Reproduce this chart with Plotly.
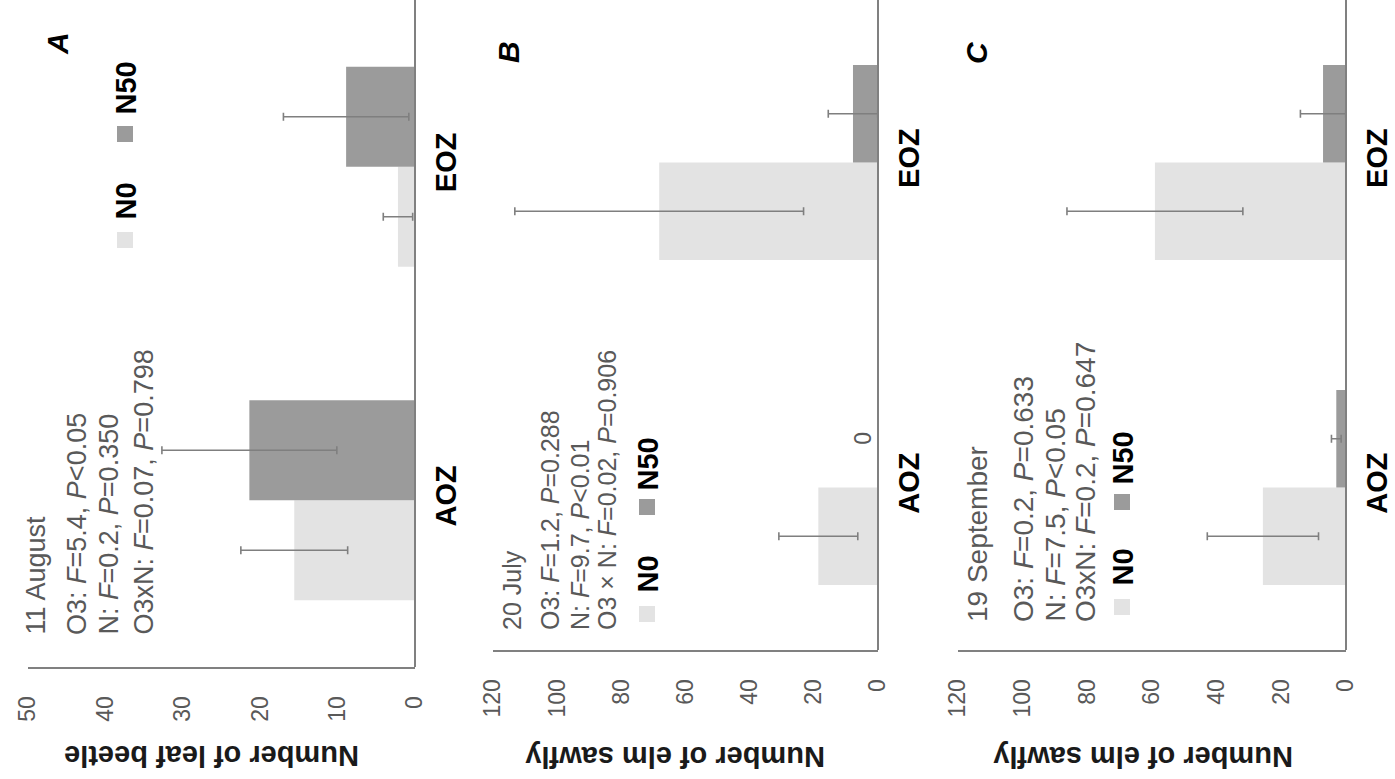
import plotly.graph_objects as go

W, H = 1395, 779

categories = ["AOZ", "EOZ"]
series_names = ["N0", "N50"]

# Panel A: leaf beetle (11 August)
a_n0 = [15.6, 2.2]
a_n0_err = [6.9, 1.9]
a_n50 = [21.4, 8.9]
a_n50_err = [11.3, 8.1]

# Panel B: elm sawfly (20 July)
b_n0 = [18.6, 68.2]
b_n0_err = [12.3, 45.0]
b_n50 = [0, 7.8]
b_n50_err = [0, 7.7]

# Panel C: elm sawfly (19 September)
c_n0 = [25.7, 59.1]
c_n0_err = [17.2, 27.2]
c_n50 = [3.0, 7.1]
c_n50_err = [1.5, 7.0]

a_ticks = [0, 10, 20, 30, 40, 50]
bc_ticks = [0, 20, 40, 60, 80, 100, 120]

panel_letters = ["A", "B", "C"]
axis_titles = ["Number of leaf beetle", "Number of elm sawfly", "Number of elm sawfly"]
stats_a = ["11 August", "O3: <i>F</i>=5.4, <i>P</i>&lt;0.05", "N: <i>F</i>=0.2, <i>P</i>=0.350",
           "O3xN: <i>F</i>=0.07, <i>P</i>=0.798"]
stats_b = ["20 July", "O3: <i>F</i>=1.2, <i>P</i>=0.288", "N: <i>F</i>=9.7, <i>P</i>&lt;0.01",
           "O3 × N: <i>F</i>=0.02, <i>P</i>=0.906"]
stats_c = ["19 September", "O3: <i>F</i>=0.2, <i>P</i>=0.633", "N: <i>F</i>=7.5, <i>P</i>&lt;0.05",
           "O3xN: <i>F</i>=0.2, <i>P</i>=0.647"]

COL_N0 = "#e3e3e3"
COL_N50 = "#9b9b9b"
ERR_COL = "#7f7f7f"
AX_COL = "#808080"
TXT_GRAY = "#595959"
FONT = "Liberation Sans, Arial, sans-serif"

panels = [
    dict(n0=a_n0, n0e=a_n0_err, n50=a_n50, n50e=a_n50_err, ticks=a_ticks, vmax=50,
         xdom=(28, 415), ybot=667, stats=stats_a, stat_x=[35, 77, 108, 143], stat_y=637, stat_size=27,
         leg_x=125, leg_sq=[240, 134], leg_txt=[222, 117], letter=(58, 44), title=(212, 756)),
    dict(n0=b_n0, n0e=b_n0_err, n50=b_n50, n50e=b_n50_err, ticks=bc_ticks, vmax=120,
         xdom=(493, 878), ybot=650, stats=stats_b, stat_x=[512, 550, 580, 607], stat_y=632, stat_size=25,
         leg_x=647, leg_sq=[614, 507], leg_txt=[595, 493], letter=(508, 52), title=(675, 757)),
    dict(n0=c_n0, n0e=c_n0_err, n50=c_n50, n50e=c_n50_err, ticks=bc_ticks, vmax=120,
         xdom=(958, 1346), ybot=650, stats=stats_c, stat_x=[977, 1023, 1055, 1085], stat_y=624, stat_size=28,
         leg_x=1122, leg_sq=[607, 502], leg_txt=[588, 487], letter=(977, 53), title=(1143, 757)),
]

fig = go.Figure()
annotations = []
shapes = []
layout_axes = {}

def px(x):
    return x / W

def py(y):
    return 1 - y / H

for i, p in enumerate(panels):
    k = "" if i == 0 else str(i + 1)
    xa, ya = "x" + k, "y" + k
    for name, vals, errs, col in [(series_names[0], p["n0"], p["n0e"], COL_N0),
                                  (series_names[1], p["n50"], p["n50e"], COL_N50)]:
        fig.add_trace(go.Bar(
            x=vals, y=categories, orientation="h", name=name,
            marker=dict(color=col, line=dict(width=0)),
            error_x=dict(type="data", array=errs, visible=True, color=ERR_COL,
                         thickness=1.6, width=4),
            xaxis=xa, yaxis=ya, showlegend=False, hoverinfo="x+y+name",
        ))
    layout_axes["xaxis" + k] = dict(
        domain=[px(p["xdom"][0]), px(p["xdom"][1])], anchor=ya, side="bottom",
        range=[p["vmax"], 0], tickvals=p["ticks"], ticktext=[str(t) for t in p["ticks"]],
        tickangle=-90, tickfont=dict(family=FONT, size=23, color=TXT_GRAY),
        showline=True, linecolor=AX_COL, linewidth=2, showgrid=False, zeroline=False,
        ticks="", ticklabelstandoff=18, fixedrange=True, automargin=False,
    )
    layout_axes["yaxis" + k] = dict(
        domain=[py(p["ybot"]), 1.0], anchor=xa, side="right",
        type="category", categoryorder="array", categoryarray=categories,
        range=[-0.5, 1.5], tickangle=-90,
        tickfont=dict(family=FONT, size=29, color="#000000", weight="bold"),
        showline=False, showgrid=False, zeroline=False,
        ticks="outside", ticklen=5, tickcolor="rgba(0,0,0,0)", fixedrange=True, automargin=False,
    )
    # zero (category) axis line on the right edge of the panel
    shapes.append(dict(type="line", xref=xa + " domain", yref=ya + " domain",
                       x0=1, x1=1, y0=0, y1=1, line=dict(color=AX_COL, width=2)))

    # panel letter
    annotations.append(dict(
        text="<b><i>%s</i></b>" % panel_letters[i], xref="paper", yref="paper",
        x=px(p["letter"][0]), y=py(p["letter"][1]), xanchor="center", yanchor="middle",
        textangle=-90, showarrow=False, font=dict(family=FONT, size=30, color="#000000")))
    # axis title (upside down)
    annotations.append(dict(
        text="<b>%s</b>" % axis_titles[i], xref="paper", yref="paper",
        x=px(p["title"][0]), y=py(p["title"][1]), xanchor="center", yanchor="middle",
        textangle=180, showarrow=False, font=dict(family=FONT, size=29, color="#1a1a1a")))
    # statistics lines
    for line, sx in zip(p["stats"], p["stat_x"]):
        annotations.append(dict(
            text=line, xref="paper", yref="paper", x=px(sx), y=py(p["stat_y"]),
            xanchor="center", yanchor="bottom", textangle=-90, showarrow=False,
            font=dict(family=FONT, size=p["stat_size"], color=TXT_GRAY)))
    # legend swatches + labels
    for name, col, sqy, ty in zip(series_names, [COL_N0, COL_N50], p["leg_sq"], p["leg_txt"]):
        shapes.append(dict(type="rect", xref="paper", yref="paper",
                           x0=px(p["leg_x"] - 8), x1=px(p["leg_x"] + 8),
                           y0=py(sqy + 8), y1=py(sqy - 8),
                           fillcolor=col, line=dict(width=0)))
        annotations.append(dict(
            text="<b>%s</b>" % name, xref="paper", yref="paper", x=px(p["leg_x"]), y=py(ty),
            xanchor="center", yanchor="bottom", textangle=-90, showarrow=False,
            font=dict(family=FONT, size=29, color="#000000")))

# zero-value label in panel B (AOZ, N50)
zero_idx = categories.index("AOZ")
annotations.append(dict(
    text=str(b_n50[zero_idx]), xref="x2", yref="y2", x=b_n50[zero_idx], y=zero_idx + 0.15,
    xshift=-15, xanchor="center", yanchor="middle", textangle=-90, showarrow=False,
    font=dict(family=FONT, size=23, color=TXT_GRAY)))

fig.update_layout(
    width=W, height=H, margin=dict(l=0, r=0, t=0, b=0, autoexpand=False),
    paper_bgcolor="white", plot_bgcolor="white",
    barmode="group", bargap=0.4, bargroupgap=0.0,
    annotations=annotations, shapes=shapes,
    font=dict(family=FONT),
    **layout_axes,
)

fig.write_html("out.html", config={"displayModeBar": False},
               post_script="document.body.style.margin='0';document.body.style.overflow='hidden';")
